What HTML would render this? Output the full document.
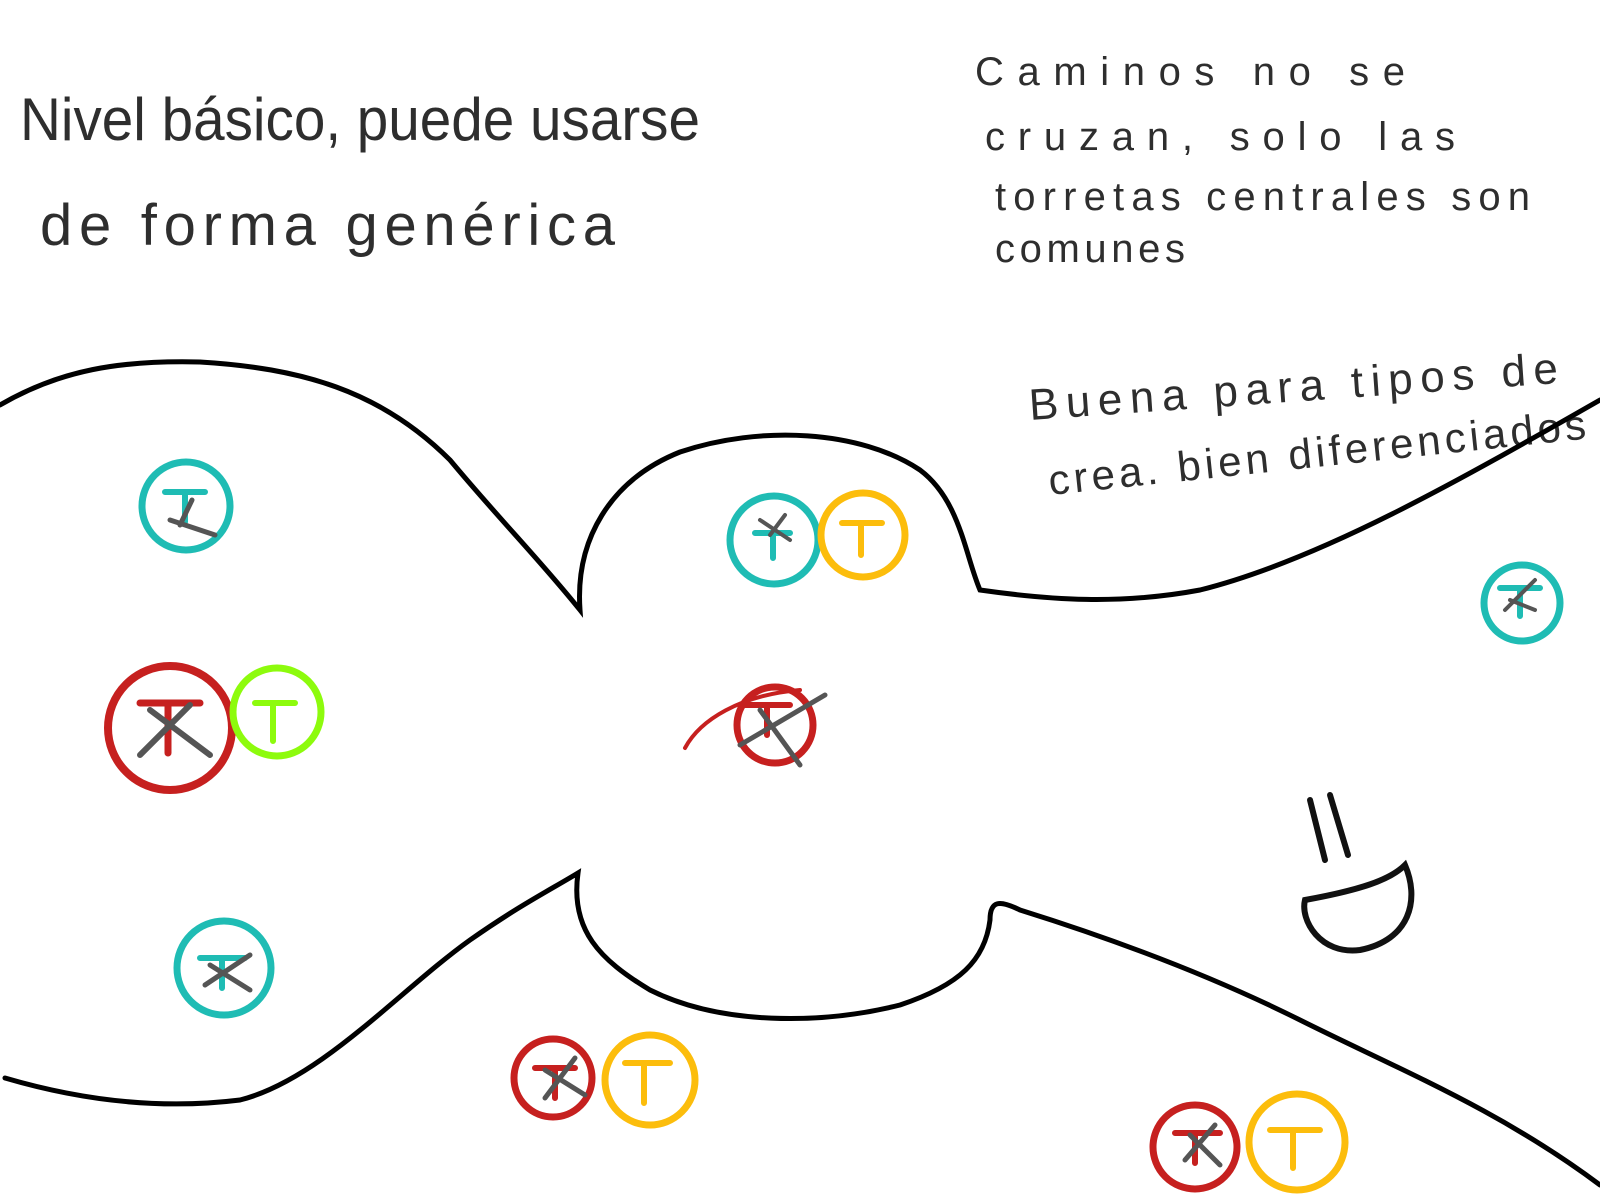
<!DOCTYPE html>
<html><head><meta charset="utf-8"><style>
html,body{margin:0;padding:0;background:#fff;width:1600px;height:1200px;overflow:hidden}
svg{display:block}
.t{font-family:"Liberation Sans",sans-serif;fill:#2e2e2e}
</style></head><body>
<svg width="1600" height="1200" viewBox="0 0 1600 1200">
<text class="t" x="20" y="140" font-size="60" textLength="680" lengthAdjust="spacingAndGlyphs">Nivel básico, puede usarse</text>
<text class="t" x="40" y="245" font-size="58" textLength="575" lengthAdjust="spacing">de forma genérica</text>
<text class="t" x="975" y="85" font-size="40" textLength="430" lengthAdjust="spacing">Caminos no se</text>
<text class="t" x="985" y="150" font-size="40" textLength="470" lengthAdjust="spacing">cruzan, solo las</text>
<text class="t" x="995" y="210" font-size="40" textLength="535" lengthAdjust="spacing">torretas centrales son</text>
<text class="t" x="995" y="262" font-size="40" textLength="190" lengthAdjust="spacing">comunes</text>
<text class="t" x="1030" y="420" font-size="44" textLength="530" lengthAdjust="spacing" transform="rotate(-4 1030 420)">Buena para tipos de</text>
<text class="t" x="1050" y="495" font-size="42" textLength="540" lengthAdjust="spacing" transform="rotate(-6 1050 495)">crea. bien diferenciados</text>

<path d="M0,405 C60,370 120,360 200,362 C300,368 380,390 450,460 C500,520 540,560 580,610 C575,540 610,480 680,452 C760,425 860,430 920,470 C960,500 965,555 980,590 C1050,600 1120,605 1200,590 C1320,560 1460,480 1600,400" fill="none" stroke="#000" stroke-width="5" stroke-linecap="round"/>
<path d="M5,1078 C80,1100 160,1110 240,1100 C320,1080 400,990 470,940 C520,905 550,890 578,873 C570,930 600,960 650,990 C720,1025 820,1025 900,1005 C960,985 985,960 990,920 C990,900 1000,900 1020,910 C1100,935 1200,970 1300,1020 C1400,1070 1500,1110 1600,1185" fill="none" stroke="#000" stroke-width="5" stroke-linecap="round"/>

<g stroke-linecap="round" fill="none">
<g><circle cx="186" cy="506" r="44" stroke="#1fbcb4" stroke-width="7"/><path d="M165,492h40M185,492v30" stroke="#1fbcb4" stroke-width="6"/><path d="M170,520l45,15M180,525l12,-25" stroke="#555" stroke-width="5"/></g>
<g><circle cx="774" cy="540" r="44" stroke="#1fbcb4" stroke-width="7"/><path d="M755,533h35M773,533v25" stroke="#1fbcb4" stroke-width="6"/><path d="M760,520l30,20M785,515l-15,20" stroke="#555" stroke-width="4"/></g>
<g><circle cx="863" cy="535" r="42" stroke="#fcbd0c" stroke-width="7"/><path d="M842,523h40M861,523v32" stroke="#fcbd0c" stroke-width="6"/></g>
<g><circle cx="1522" cy="603" r="38" stroke="#1fbcb4" stroke-width="7"/><path d="M1500,588h40M1520,588v28" stroke="#1fbcb4" stroke-width="6"/><path d="M1505,610l30,-30M1510,600l25,10" stroke="#555" stroke-width="4"/></g>
<g><circle cx="170" cy="728" r="62" stroke="#c6201f" stroke-width="8"/><path d="M140,703h60M168,703v50" stroke="#c6201f" stroke-width="7"/><path d="M140,755l50,-50M150,710l60,45" stroke="#555" stroke-width="6"/></g>
<g><circle cx="277" cy="712" r="44" stroke="#8dfb0d" stroke-width="7"/><path d="M255,703h40M273,703v38" stroke="#8dfb0d" stroke-width="6"/></g>
<g><circle cx="775" cy="725" r="38" stroke="#c6201f" stroke-width="7"/><path d="M685,748C700,720 740,695 800,690" stroke="#c6201f" stroke-width="4"/><path d="M745,705h45M767,705v30" stroke="#c6201f" stroke-width="6"/><path d="M740,745l85,-50M760,710l40,55" stroke="#555" stroke-width="5"/></g>
<g><circle cx="224" cy="968" r="47" stroke="#1fbcb4" stroke-width="7"/><path d="M200,958h45M222,958v30" stroke="#1fbcb4" stroke-width="6"/><path d="M205,985l45,-30M210,965l40,25" stroke="#555" stroke-width="5"/></g>
<g><circle cx="553" cy="1078" r="39" stroke="#c6201f" stroke-width="7"/><path d="M535,1068h40M555,1068v30" stroke="#c6201f" stroke-width="6"/><path d="M545,1098l30,-40M545,1070l40,25" stroke="#555" stroke-width="5"/></g>
<g><circle cx="650" cy="1080" r="45" stroke="#fcbd0c" stroke-width="7"/><path d="M625,1063h45M644,1063v40" stroke="#fcbd0c" stroke-width="6"/></g>
<g><circle cx="1195" cy="1147" r="42" stroke="#c6201f" stroke-width="7"/><path d="M1175,1133h45M1195,1133v30" stroke="#c6201f" stroke-width="6"/><path d="M1185,1160l30,-35M1190,1135l30,30" stroke="#555" stroke-width="5"/></g>
<g><circle cx="1297" cy="1142" r="48" stroke="#fcbd0c" stroke-width="7"/><path d="M1270,1130h50M1293,1130v38" stroke="#fcbd0c" stroke-width="6"/></g>
<g stroke="#111" stroke-width="6"><path d="M1310,800l15,60M1330,795l18,60"/><path d="M1305,900C1360,890 1390,880 1405,865C1420,900 1410,940 1360,950C1320,955 1300,920 1305,900Z"/></g>
</g>
</svg>
</body></html>
